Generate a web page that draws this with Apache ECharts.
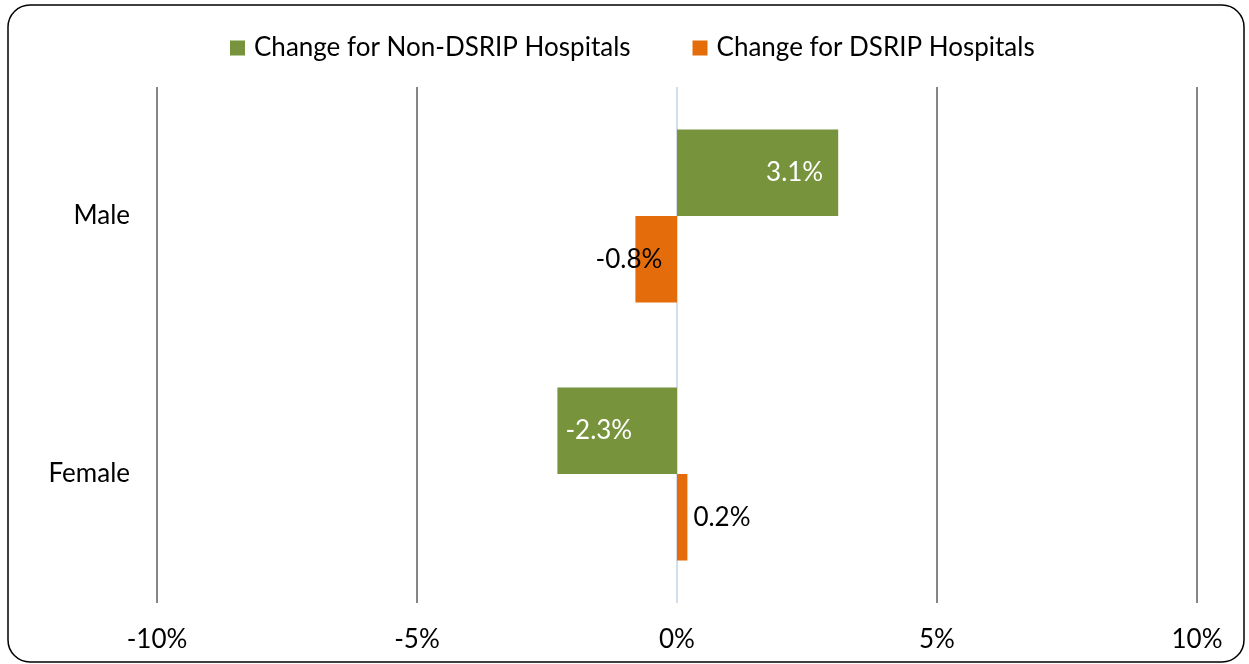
<!DOCTYPE html>
<html>
<head>
<meta charset="utf-8">
<script src="https://cdn.jsdelivr.net/npm/echarts@6/dist/echarts.min.js"></script>
<style>
  html, body { margin: 0; padding: 0; background: #fff; }
  #chart { width: 1249px; height: 664px; }
</style>
</head>
<body>
<div id="chart"></div>
<script>
// Change in share by gender, in percentage points
const categories = ['Male', 'Female'];
const nonDsripChange = [3.1, -2.3];
const dsripChange = [-0.8, 0.2];
const seriesNames = ['Change for Non-DSRIP Hospitals', 'Change for DSRIP Hospitals'];
const axisMin = -10;
const axisMax = 10;
const axisStep = 5;

const FONT = 'Lato, "Liberation Sans", sans-serif';
const FS = 26;
const GREEN = '#77933C';
const ORANGE = '#E46C0A';

// value labels: inside the end of green bars, per-item placement for orange ones
const greenData = nonDsripChange.map(v => ({
  value: v,
  label: {
    position: v >= 0 ? 'insideRight' : 'insideLeft',
    distance: v >= 0 ? 15 : 8
  }
}));
const orangeData = dsripChange.map(v => ({
  value: v,
  label: v < 0
    ? { position: 'left', distance: -27 }
    : { position: 'right', distance: 6 }
}));

const chart = echarts.init(document.getElementById('chart'), null, { renderer: 'canvas' });
chart.setOption({
  animation: false,
  backgroundColor: '#fff',
  textStyle: { fontFamily: FONT },
  graphic: [{
    type: 'rect',
    shape: { x: 8, y: 5, width: 1236, height: 657, r: 22 },
    style: { fill: 'none', stroke: '#000', lineWidth: 1.5 },
    silent: true,
    z: -1
  }],
  legend: {
    top: 30,
    left: 225,
    icon: 'rect',
    itemWidth: 15,
    itemHeight: 15,
    itemGap: 62,
    textStyle: { fontFamily: FONT, fontSize: FS, color: '#000', padding: [0, 0, 0, 4] },
    data: seriesNames
  },
  grid: { left: 157, right: 52, top: 87, bottom: 61, containLabel: false },
  xAxis: {
    type: 'value',
    min: axisMin,
    max: axisMax,
    interval: axisStep,
    axisLine: { show: false },
    axisTick: { show: false },
    axisLabel: {
      formatter: '{value}%',
      fontFamily: FONT,
      fontSize: FS,
      color: '#000',
      margin: 24
    },
    splitLine: {
      show: true,
      lineStyle: { color: ['#868686', '#868686', '#D3DEEC', '#868686', '#868686'], width: 2 }
    }
  },
  yAxis: {
    type: 'category',
    data: categories,
    inverse: true,
    axisLine: { show: false },
    axisTick: { show: false },
    axisLabel: {
      fontFamily: FONT,
      fontSize: FS,
      color: '#000',
      margin: 27
    }
  },
  series: [
    {
      name: seriesNames[0],
      type: 'bar',
      data: greenData,
      barCategoryGap: '33%',
      barGap: '0%',
      itemStyle: { color: GREEN },
      label: {
        show: true,
        formatter: p => p.value + '%',
        fontFamily: FONT,
        fontSize: FS,
        color: '#fff'
      }
    },
    {
      name: seriesNames[1],
      type: 'bar',
      data: orangeData,
      barCategoryGap: '33%',
      barGap: '0%',
      itemStyle: { color: ORANGE },
      label: {
        show: true,
        formatter: p => p.value + '%',
        fontFamily: FONT,
        fontSize: FS,
        color: '#000'
      }
    }
  ]
});
</script>
</body>
</html>
